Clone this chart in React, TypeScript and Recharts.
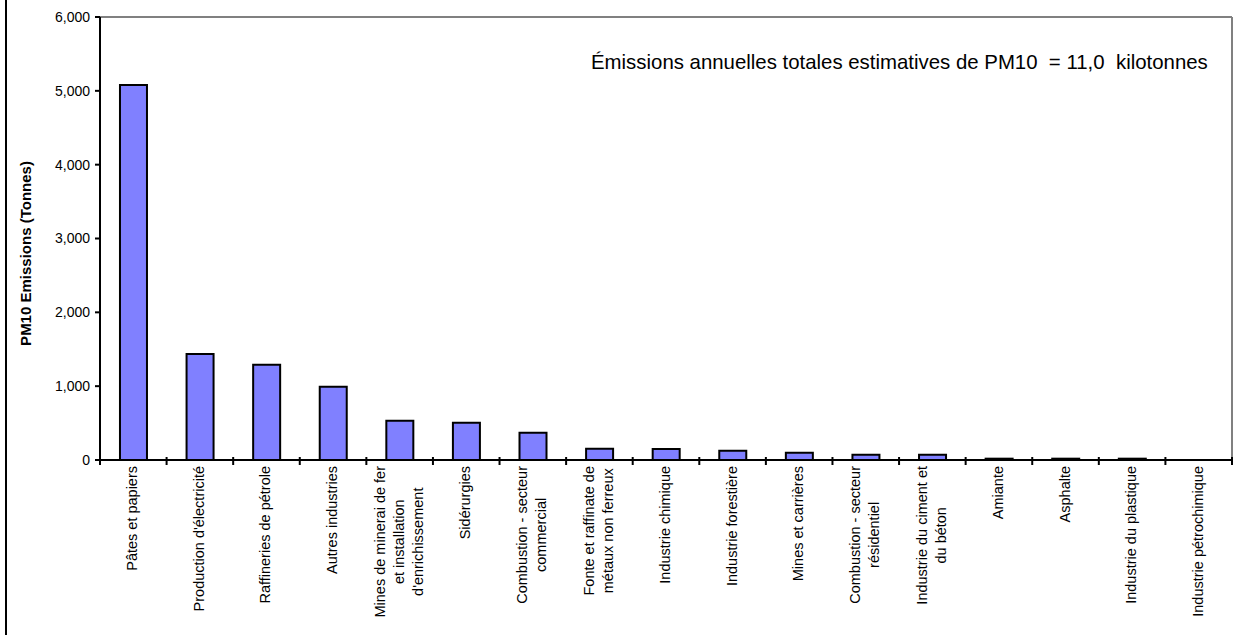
import { BarChart, Bar, XAxis, YAxis, ReferenceLine } from 'recharts';

// PM10 emissions by sector (tonnes)
const CATEGORIES = [
  'Pâtes et papiers',
  "Production d'électricité",
  'Raffineries de pétrole',
  'Autres industries',
  "Mines de minerai de fer\net installation\nd'enrichissement",
  'Sidérurgies',
  'Combustion - secteur\ncommercial',
  'Fonte et raffinate de\nmétaux non ferreux',
  'Industrie chimique',
  'Industrie forestière',
  'Mines et carrières',
  'Combustion - secteur\nrésidentiel',
  'Industrie du ciment et\ndu béton',
  'Amiante',
  'Asphalte',
  'Industrie du plastique',
  'Industrie pétrochimique',
];

const EMISSIONS = [5080, 1435, 1290, 993, 530, 505, 370, 153, 150, 126, 99, 72, 72, 18, 18, 18, 0];

const Y_TICKS = [0, 1000, 2000, 3000, 4000, 5000, 6000];

const TOTAL_NOTE = 'Émissions annuelles totales estimatives de PM10  = 11,0  kilotonnes';
const Y_TITLE = 'PM10 Emissions (Tonnes)';

const W = 1243;
const H = 635;
const MARGIN = { top: 17, right: 10, left: 0, bottom: 0 };
const Y_AXIS_W = 100;
const RIGHT_AXIS_W = 1;
const X_AXIS_H = 175;
const FONT = '"Liberation Sans", Arial, Helvetica, sans-serif';
const LABEL_SIZE = 14.5;
const BAR_FILL = '#8080FF';
const FRAME_GRAY = '#808080';
const LINE_H = 19;
const STEP = (W - Y_AXIS_W - RIGHT_AXIS_W - MARGIN.right) / CATEGORIES.length;

let ctx: CanvasRenderingContext2D | null = null;
function measure(text: string): number {
  if (!ctx) ctx = document.createElement('canvas').getContext('2d');
  if (!ctx) return text.length * 7;
  ctx.font = `${LABEL_SIZE}px ${FONT}`;
  return ctx.measureText(text).width;
}

// category label: rotated, lines centred on each other, block hung from the axis
// eslint-disable-next-line @typescript-eslint/no-explicit-any
function CategoryTick({ x, y, payload, index }: any) {
  const lines = String(payload.value).split('\n');
  const maxW = Math.max(...lines.map(measure));
  const tickX = x - STEP / 2;
  const last = index === CATEGORIES.length - 1;
  return (
    <g>
      <line x1={tickX} x2={tickX} y1={y - 3} y2={y + 5} stroke="#000" strokeWidth={2} />
      {last && <line x1={x + STEP / 2} x2={x + STEP / 2} y1={y - 3} y2={y + 5} stroke="#000" strokeWidth={2} />}
      <g transform={`translate(${x},${y + 6}) rotate(-90)`}>
        <text x={-maxW / 2} y={0} textAnchor="middle" fontSize={LABEL_SIZE} fontFamily={FONT} fill="#000">
          {lines.map((ln, i) => (
            <tspan key={i} x={-maxW / 2} dy={i === 0 ? -((lines.length - 1) / 2) * LINE_H + 4 : LINE_H}>
              {ln}
            </tspan>
          ))}
        </text>
      </g>
    </g>
  );
}

// eslint-disable-next-line @typescript-eslint/no-explicit-any
function YTitle({ viewBox }: any) {
  const cx = viewBox.x + 31;
  const cy = viewBox.y + viewBox.height / 2 + 15;
  return (
    <text
      transform={`translate(${cx},${cy}) rotate(-90)`}
      textAnchor="middle"
      fontSize={15}
      fontWeight="bold"
      fontFamily={FONT}
      fill="#000"
    >
      {Y_TITLE}
    </text>
  );
}

export default function App() {
  const data = CATEGORIES.map((name, i) => ({ name, value: EMISSIONS[i] }));

  return (
    <div style={{ position: 'absolute', left: 0, top: 0, width: W, height: H, background: '#fff', fontFamily: FONT }}>
      {/* outer frame, only its left edge is in view */}
      <div style={{ position: 'absolute', left: 5, top: 0, width: 2, height: H, background: '#000' }} />

      <BarChart width={W} height={H} data={data} margin={MARGIN} barCategoryGap="30%">
        <XAxis
          dataKey="name"
          interval={0}
          height={X_AXIS_H}
          tickSize={0}
          tickMargin={0}
          tickLine={false}
          axisLine={{ stroke: '#000', strokeWidth: 2 }}
          tick={<CategoryTick />}
        />
        <YAxis
          yAxisId="left"
          width={Y_AXIS_W}
          domain={[0, 6000]}
          ticks={Y_TICKS}
          interval={0}
          tickSize={5}
          tickMargin={5}
          axisLine={{ stroke: '#000', strokeWidth: 2 }}
          tickLine={{ stroke: '#000', strokeWidth: 2 }}
          tick={{ fill: '#000', fontSize: 14, fontFamily: FONT }}
          tickFormatter={(v: number) => v.toLocaleString('en-US')}
          label={<YTitle />}
        />
        {/* right edge of the plot frame */}
        <YAxis
          yAxisId="right"
          orientation="right"
          width={RIGHT_AXIS_W}
          domain={[0, 6000]}
          ticks={Y_TICKS}
          tick={false}
          tickLine={false}
          axisLine={{ stroke: FRAME_GRAY, strokeWidth: 2 }}
        />
        <ReferenceLine yAxisId="left" y={6000} stroke={FRAME_GRAY} strokeWidth={2} />

        <Bar yAxisId="left" dataKey="value" fill={BAR_FILL} stroke="#000" strokeWidth={2} isAnimationActive={false} />
        <Bar yAxisId="right" dataKey="value" hide isAnimationActive={false} />
      </BarChart>

      <svg width={W} height={H} style={{ position: 'absolute', left: 0, top: 0, pointerEvents: 'none' }}>
        <text x={591} y={69} fontSize={20.4} fontFamily={FONT} fill="#000" style={{ whiteSpace: 'pre' }}>
          {TOTAL_NOTE}
        </text>
      </svg>
    </div>
  );
}
